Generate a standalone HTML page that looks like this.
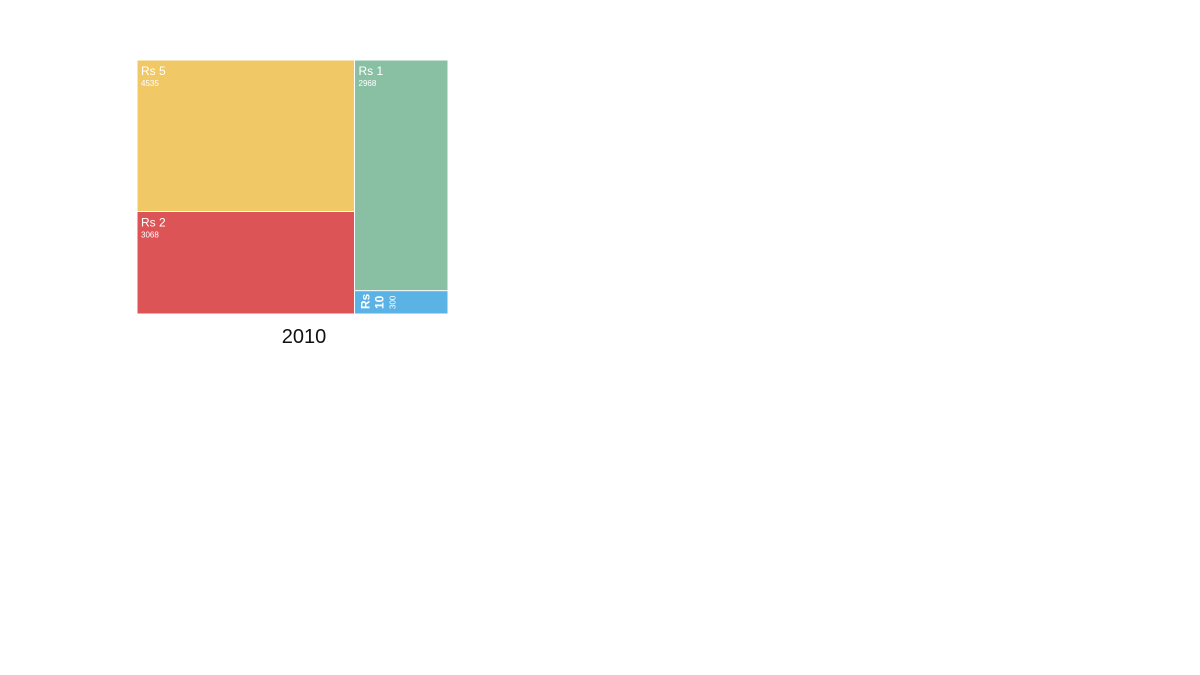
<!DOCTYPE html>
<html><head><meta charset="utf-8">
<style>
body{margin:0;background:#fff;width:1200px;height:675px;overflow:hidden;font-family:"Liberation Sans",sans-serif}
#chart{position:absolute;left:0;top:0}
.cap{position:absolute;left:254px;top:326px;width:100px;text-align:center;font-size:20px;color:#111}
</style></head><body>
<svg id="chart" width="1200" height="675"></svg>
<div class="cap">2010</div>
<script>
const labels=["Rs 5","Rs 2","Rs 1","Rs 10"];
const values=[4535,3068,2968,300];
const colors=["#f0c866","#dd5457","#89c0a4","#5ab3e4"];
const columns=[[0,1],[2,3]];
const X0=137,Y0=60,W=311,H=254;
const svg=document.getElementById('chart');
const NS="http://www.w3.org/2000/svg";
const total=values.reduce((a,b)=>a+b,0);
let cx=X0;
columns.forEach(col=>{
  const cs=col.reduce((a,i)=>a+values[i],0);
  const cw=cs/total*W;
  let cy=Y0;
  col.forEach(i=>{
    const h=values[i]/cs*H;
    const g=document.createElementNS(NS,'g');
    
    
    const r=document.createElementNS(NS,'rect');
    r.setAttribute('x',cx+0.5);r.setAttribute('y',cy+0.5);
    r.setAttribute('width',Math.max(cw-1,0));r.setAttribute('height',Math.max(h-1,0));
    r.setAttribute('fill',colors[i]);
    
    
    g.appendChild(r);
    const t1=document.createElementNS(NS,'text');
    const t2=document.createElementNS(NS,'text');
    t1.textContent=labels[i];t2.textContent=values[i];
    t1.setAttribute('fill','#fff');t2.setAttribute('fill','#fff');
    t1.setAttribute('font-size','12');t2.setAttribute('font-size','8');
    
    
    
    
    if(h<40){
      t1.setAttribute('font-weight','bold');
      t1.setAttribute('transform',`translate(${cx+15},${cy+h-5}) rotate(-90)`);
      t2.setAttribute('transform',`translate(${cx+41},${cy+h-5}) rotate(-90)`);
      t1.textContent="";
      const a=document.createElementNS(NS,'tspan');a.textContent=labels[i].split(' ')[0];a.setAttribute('x',0);a.setAttribute('dy',0);
      const b=document.createElementNS(NS,'tspan');b.textContent=labels[i].split(' ')[1];b.setAttribute('x',0);b.setAttribute('dy',14);
      t1.appendChild(a);t1.appendChild(b);
    }else{
      t1.setAttribute('x',cx+4);t1.setAttribute('y',cy+15);
      t2.setAttribute('x',cx+4);t2.setAttribute('y',cy+26);
    }
    g.appendChild(t1);g.appendChild(t2);
    svg.appendChild(g);
    cy+=h;
  });
  cx+=cw;
});
</script>
</body></html>
